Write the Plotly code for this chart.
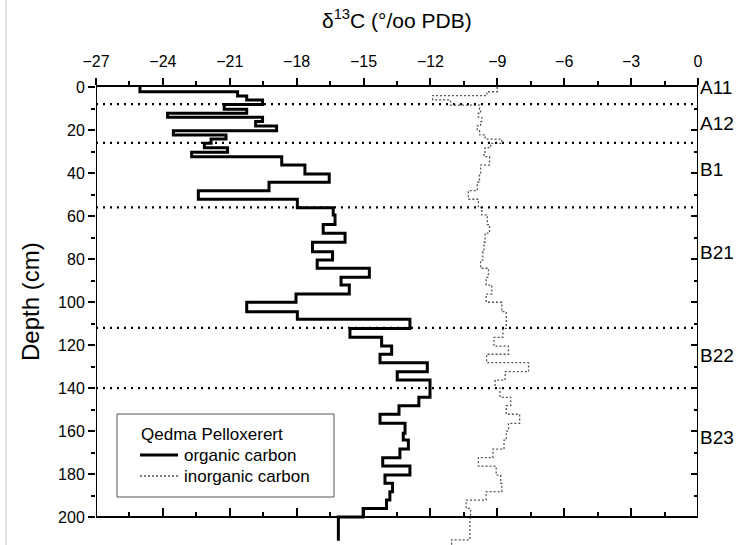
import plotly.graph_objects as go

# ---------------- data ----------------
# organic carbon: depth (top of interval, cm) and delta13C value
org_depth = [0, 2.2, 4.2, 6, 8.1, 10.4, 12.2, 14.1, 16.1, 18.1, 20.3, 22.3, 24.2, 26.2, 28.2,
             30.4, 32.4, 36.3, 40.5, 44.3, 48.2, 52.2, 56.1, 59.5, 64, 68, 72.2, 76.6, 80.5,
             84.3, 88.5, 92.1, 96.3, 100.1, 104.5, 108, 112.3, 116.4, 120.5, 124.3, 128.2,
             132.4, 136.3, 144.3, 148.2, 152.2, 156.4, 161, 164.2, 168.4, 172.4, 176.3,
             180.5, 184.3, 188.2, 192.1, 196, 200]
org_value = [-25.03, -20.65, -20.24, -19.53, -21.25, -20.24, -23.79, -19.53, -19.84, -18.9,
             -23.53, -21.17, -21.84, -22.14, -21.1, -22.71, -18.67, -17.63, -16.54, -19.24,
             -22.41, -17.97, -16.36, -16.28, -16.81, -15.83, -17.29, -16.39, -17.08, -14.74,
             -16.01, -15.64, -18.03, -20.24, -17.97, -12.92, -15.61, -14.19, -13.74, -14.26,
             -12.14, -13.49, -12.02, -12.52, -13.41, -14.26, -13.14, -13.22, -12.99, -13.37,
             -14.14, -12.92, -14.04, -13.7, -13.82, -13.97, -15.02, -16.13]
org_end = 211

# inorganic carbon
inorg_depth = [0, 2.2, 4, 6, 8.4, 10.4, 12.2, 14.1, 16.1, 18.1, 20.3, 22.3, 24.2, 26.2, 28.2,
               30.4, 32.4, 36.3, 40.5, 44.3, 48.2, 52.2, 56.1, 59.5, 64, 68, 72.2, 76.6, 80.5,
               84.3, 88.5, 92.1, 96.3, 100.1, 104.5, 108, 112.3, 116.4, 120.5, 124.3, 128.2,
               132.4, 136.3, 140, 144.3, 148.2, 152.2, 156.4, 160, 164.2, 168.4, 172.4, 176.3,
               180.5, 184.3, 188.2, 192.1, 196, 200, 210.6]
inorg_value = [-9.0, -9.47, -11.9, -11.1, -9.8, -9.75, -9.85, -9.7, -9.75, -9.9, -9.8, -9.55,
               -8.8, -9.3, -9.55, -9.6, -9.35, -9.75, -9.8, -9.9, -10.3, -9.85, -9.7, -9.45,
               -9.35, -9.55, -9.6, -9.65, -9.75, -9.4, -9.5, -9.25, -9.5, -8.8, -8.6, -8.6,
               -8.75, -9.15, -8.5, -9.48, -7.6, -8.65, -9.1, -8.88, -8.4, -8.6, -8.0, -8.5,
               -8.6, -8.7, -9.2, -9.85, -9.05, -8.85, -8.8, -9.5, -10.4, -10.2, -10.23, -11.05]
inorg_end = 214

horizon_depths = [8, 26, 56, 112, 140]
horizon_names = ["A11", "A12", "B1", "B21", "B22", "B23"]
horizon_label_depths = [0, 17, 38.5, 77, 125, 163]

series_names = ["organic carbon", "inorganic carbon"]
legend_title = "Qedma Pelloxerert"

x_ticks = list(range(-27, 1, 3))
y_ticks = list(range(0, 201, 20))
y_minor = list(range(10, 200, 20))

FONT = "Liberation Sans, Arial, sans-serif"
Y_MAX = 213

# page pixel -> paper helpers (plot area: x 96..698, y 87..545 in the window)
def px(X):
    return (X - 96) / 602.0

def py(Y):
    return (545 - Y) / 458.0

ORG_LINE = dict(color="black", width=3)
INORG_LINE = dict(color="#555555", width=1.3, dash="2px,2px")

fig = go.Figure()

fig.add_trace(go.Scatter(
    x=org_value + [org_value[-1]], y=org_depth + [org_end],
    mode="lines", line=dict(shape="vh", **ORG_LINE),
    name=series_names[0], xaxis="x", yaxis="y", showlegend=False))

fig.add_trace(go.Scatter(
    x=inorg_value + [inorg_value[-1]], y=inorg_depth + [inorg_end],
    mode="lines", line=dict(shape="vh", **INORG_LINE),
    name=series_names[1], xaxis="x2", yaxis="y2", showlegend=False))

shapes = []
for d in horizon_depths:
    shapes.append(dict(type="line", xref="x", yref="y", x0=-27, x1=0, y0=d, y1=d,
                       line=dict(color="black", width=2.2, dash="2px,5px")))
# frame lines (left and right axes between 0 and 200)
for xv in (-27, 0):
    shapes.append(dict(type="line", xref="x", yref="y", x0=xv, x1=xv, y0=0, y1=200,
                       line=dict(color="black", width=2)))
# thin gray page border at left
shapes.append(dict(type="line", xref="paper", yref="paper", x0=px(6), x1=px(6),
                   y0=-0.05, y1=1.25, line=dict(color="#c8c8c8", width=1)))

# legend box and samples
shapes.append(dict(type="rect", xref="paper", yref="paper", x0=px(117), x1=px(334),
                   y0=py(497), y1=py(414), line=dict(color="#555555", width=1),
                   fillcolor="white", layer="above"))
shapes.append(dict(type="line", xref="paper", yref="paper", x0=px(140), x1=px(178),
                   y0=py(455), y1=py(455), line=ORG_LINE))
shapes.append(dict(type="line", xref="paper", yref="paper", x0=px(140), x1=px(178),
                   y0=py(476), y1=py(476), line=INORG_LINE))

annotations = [
    dict(text="δ<sup>13</sup>C (°/oo PDB)", xref="paper", yref="paper", x=0.5, y=py(19),
         showarrow=False, font=dict(size=21, family=FONT, color="black"),
         xanchor="center", yanchor="middle"),
    dict(text="Depth (cm)", xref="paper", yref="paper", x=px(30), y=py(302),
         showarrow=False, textangle=-90, font=dict(size=24, family=FONT, color="black"),
         xanchor="center", yanchor="middle"),
    dict(text=legend_title, xref="paper", yref="paper", x=px(139), y=py(434),
         showarrow=False, xanchor="left", yanchor="middle",
         font=dict(size=17, family=FONT, color="black")),
    dict(text=series_names[0], xref="paper", yref="paper", x=px(182), y=py(455),
         showarrow=False, xanchor="left", yanchor="middle",
         font=dict(size=17, family=FONT, color="black")),
    dict(text=series_names[1], xref="paper", yref="paper", x=px(182), y=py(476),
         showarrow=False, xanchor="left", yanchor="middle",
         font=dict(size=17, family=FONT, color="black")),
]
for name, d in zip(horizon_names, horizon_label_depths):
    annotations.append(dict(text=name, xref="x", yref="y", x=0, y=d, showarrow=False,
                            xanchor="left", yanchor="middle", xshift=0,
                            font=dict(size=19, family=FONT, color="black")))

fig.update_layout(
    width=740, height=545,
    margin=dict(l=96, r=42, t=87, b=0),
    paper_bgcolor="white", plot_bgcolor="white",
    font=dict(family=FONT, color="black", size=16),
    showlegend=False,
    xaxis=dict(range=[-27, 0], side="top", tickmode="array", tickvals=x_ticks,
               ticks="outside", ticklen=7, tickwidth=2, tickcolor="black",
               minor=dict(tickmode="linear", tick0=-27, dtick=1.5, ticks="outside",
                          ticklen=4, tickwidth=2, tickcolor="black"),
               showline=True, linewidth=2, linecolor="black", showgrid=False,
               zeroline=False, tickfont=dict(size=16), ticklabelstandoff=5,
               automargin=False),
    xaxis2=dict(range=[-27, 0], overlaying="x", side="bottom", anchor="free",
                position=(Y_MAX - 200) / Y_MAX, tickmode="array", tickvals=x_ticks,
                ticks="inside", ticklen=8, tickwidth=2, tickcolor="black",
                minor=dict(tickmode="linear", tick0=-27, dtick=1.5, ticks="inside",
                           ticklen=4, tickwidth=2, tickcolor="black"),
                showline=True, linewidth=2, linecolor="black", showgrid=False,
                zeroline=False, showticklabels=False, automargin=False),
    yaxis=dict(range=[Y_MAX, 0], tickmode="array", tickvals=y_ticks,
               ticks="outside", ticklen=7, tickwidth=2, tickcolor="black",
               minor=dict(tickmode="array", tickvals=y_minor, ticks="outside",
                          ticklen=4, tickwidth=2, tickcolor="black"),
               showline=False, showgrid=False, zeroline=False,
               tickfont=dict(size=16), ticklabelstandoff=0, automargin=False),
    yaxis2=dict(range=[Y_MAX, 0], overlaying="y", side="right", anchor="x",
                tickmode="array", tickvals=y_ticks,
                ticks="inside", ticklen=7, tickwidth=2, tickcolor="black",
                minor=dict(tickmode="array", tickvals=y_minor, ticks="inside",
                           ticklen=4, tickwidth=2, tickcolor="black"),
                showline=False, showgrid=False, zeroline=False,
                showticklabels=False, automargin=False),
    shapes=shapes,
    annotations=annotations,
)

fig.write_html("out.html", config={"displayModeBar": False},
               post_script="document.body.style.margin='0px';")
